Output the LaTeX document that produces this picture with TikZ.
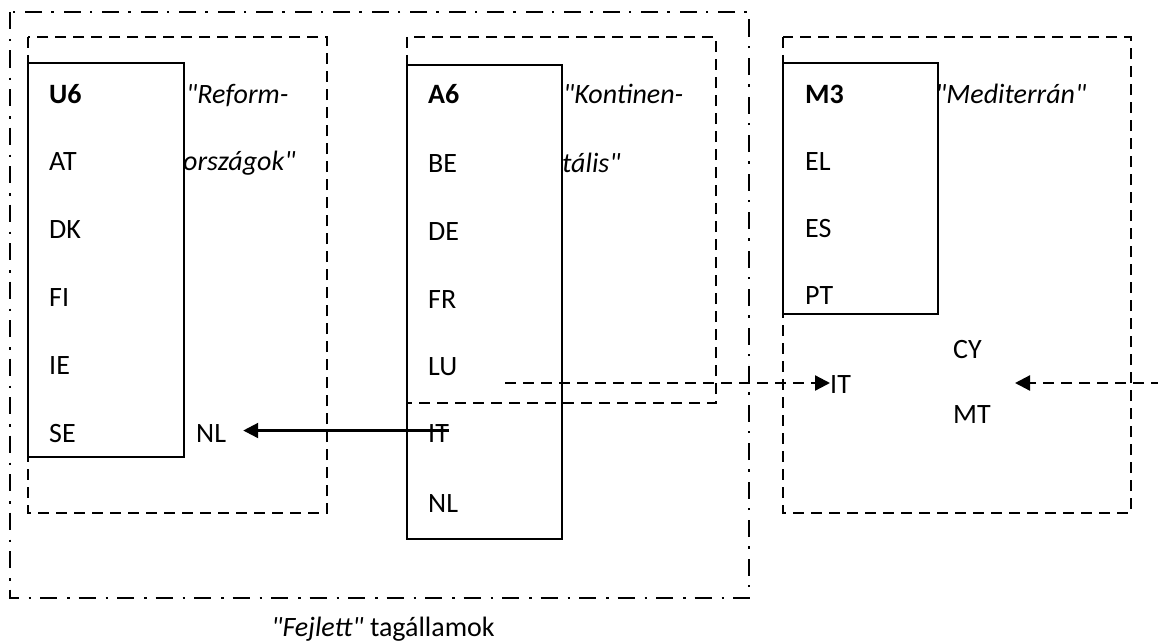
\documentclass[tikz,border=0pt]{standalone}
\usepackage{fontspec}
\setmainfont{Carlito}[Ligatures=TeXOff]
\usetikzlibrary{arrows.meta}
\begin{document}
\begin{tikzpicture}[x=1pt,y=-1pt,
  lbl/.style={anchor=base west,inner sep=0pt,font=\fontsize{28}{34}\selectfont},
  ttl/.style={lbl,font=\fontsize{28}{34}\selectfont\bfseries},
  grp/.style={lbl,font=\fontsize{28}{34}\selectfont\itshape},
  solidbox/.style={draw,line width=2.3pt},
  groupbox/.style={draw,line width=2.3pt,dash pattern=on 11pt off 7pt},
  outerbox/.style={draw,line width=2.3pt,dash pattern=on 17pt off 10pt on 2.5pt off 9pt},
  movearrow/.style={line width=2.3pt,-{Triangle[length=15pt,width=15pt]}},
  shiftarrow/.style={movearrow,dash pattern=on 11pt off 7pt}]
\useasboundingbox (0,0) rectangle (1158,642);

% "Fejlett" frame
\draw[outerbox] (10,12) rectangle (749,598);
\node[lbl,anchor=base] (cap) at (383,636) {\textit{"Fejlett"} tagállamok};

% group frames
\draw[groupbox] (28,37) rectangle (327,513);
\draw[groupbox] (407,37) rectangle (716,403);
\draw[groupbox] (783,37) rectangle (1131,513);

% member boxes
\draw[solidbox] (28,63) rectangle (184,457);
\draw[solidbox] (407,65) rectangle (562,539);
\draw[solidbox] (783,63) rectangle (938,314);

% U6 column
\node[ttl] (u6) at (49,103) {U6};
\node[lbl] (at) at (49,170) {AT};
\node[lbl] (dk) at (49,238) {DK};
\node[lbl] (fi) at (49,306) {FI};
\node[lbl] (ie) at (49,374) {IE};
\node[lbl] (se) at (49,442) {SE};
\node[grp] (reformA) at (186,103) {"Reform-};
\node[grp] (reformB) at (183,170) {országok"};
\node[lbl] (nlU) at (196,442.5) {NL};

% A6 column
\node[ttl] (a6) at (428,103) {A6};
\node[lbl] (be) at (428,172) {BE};
\node[lbl] (de) at (428,240) {DE};
\node[lbl] (fr) at (428,308) {FR};
\node[lbl] (lu) at (428,375) {LU};
\node[lbl] (itA) at (428,442.5) {IT};
\node[lbl] (nlA) at (428,512) {NL};
\node[grp] (kontA) at (563,103) {"Kontinen-};
\node[grp] (kontB) at (562,172) {tális"};

% M3 column
\node[ttl] (m3) at (805,103) {M3};
\node[lbl] (el) at (805,170) {EL};
\node[lbl] (es) at (805,237) {ES};
\node[lbl] (pt) at (805,304) {PT};
\node[grp] (medi) at (935,103) {"Mediterrán"};
\node[lbl] (cy) at (953,358) {CY};
\node[lbl] (itM) at (830,393) {IT};
\node[lbl] (mt) at (953,423) {MT};

% moves between groups
\draw[movearrow] ([yshift=3pt]itA.east) -- ([xshift=17pt,yshift=3pt]nlU.east);
\coordinate (fromLU) at (505,383);
\coordinate (fromRight) at (1162,383);
\coordinate (toCYMT) at (1015,383);
\draw[shiftarrow] (fromLU) -- (fromLU -| itM.west);
\draw[shiftarrow] (fromRight) -- (toCYMT);
\end{tikzpicture}
\end{document}
